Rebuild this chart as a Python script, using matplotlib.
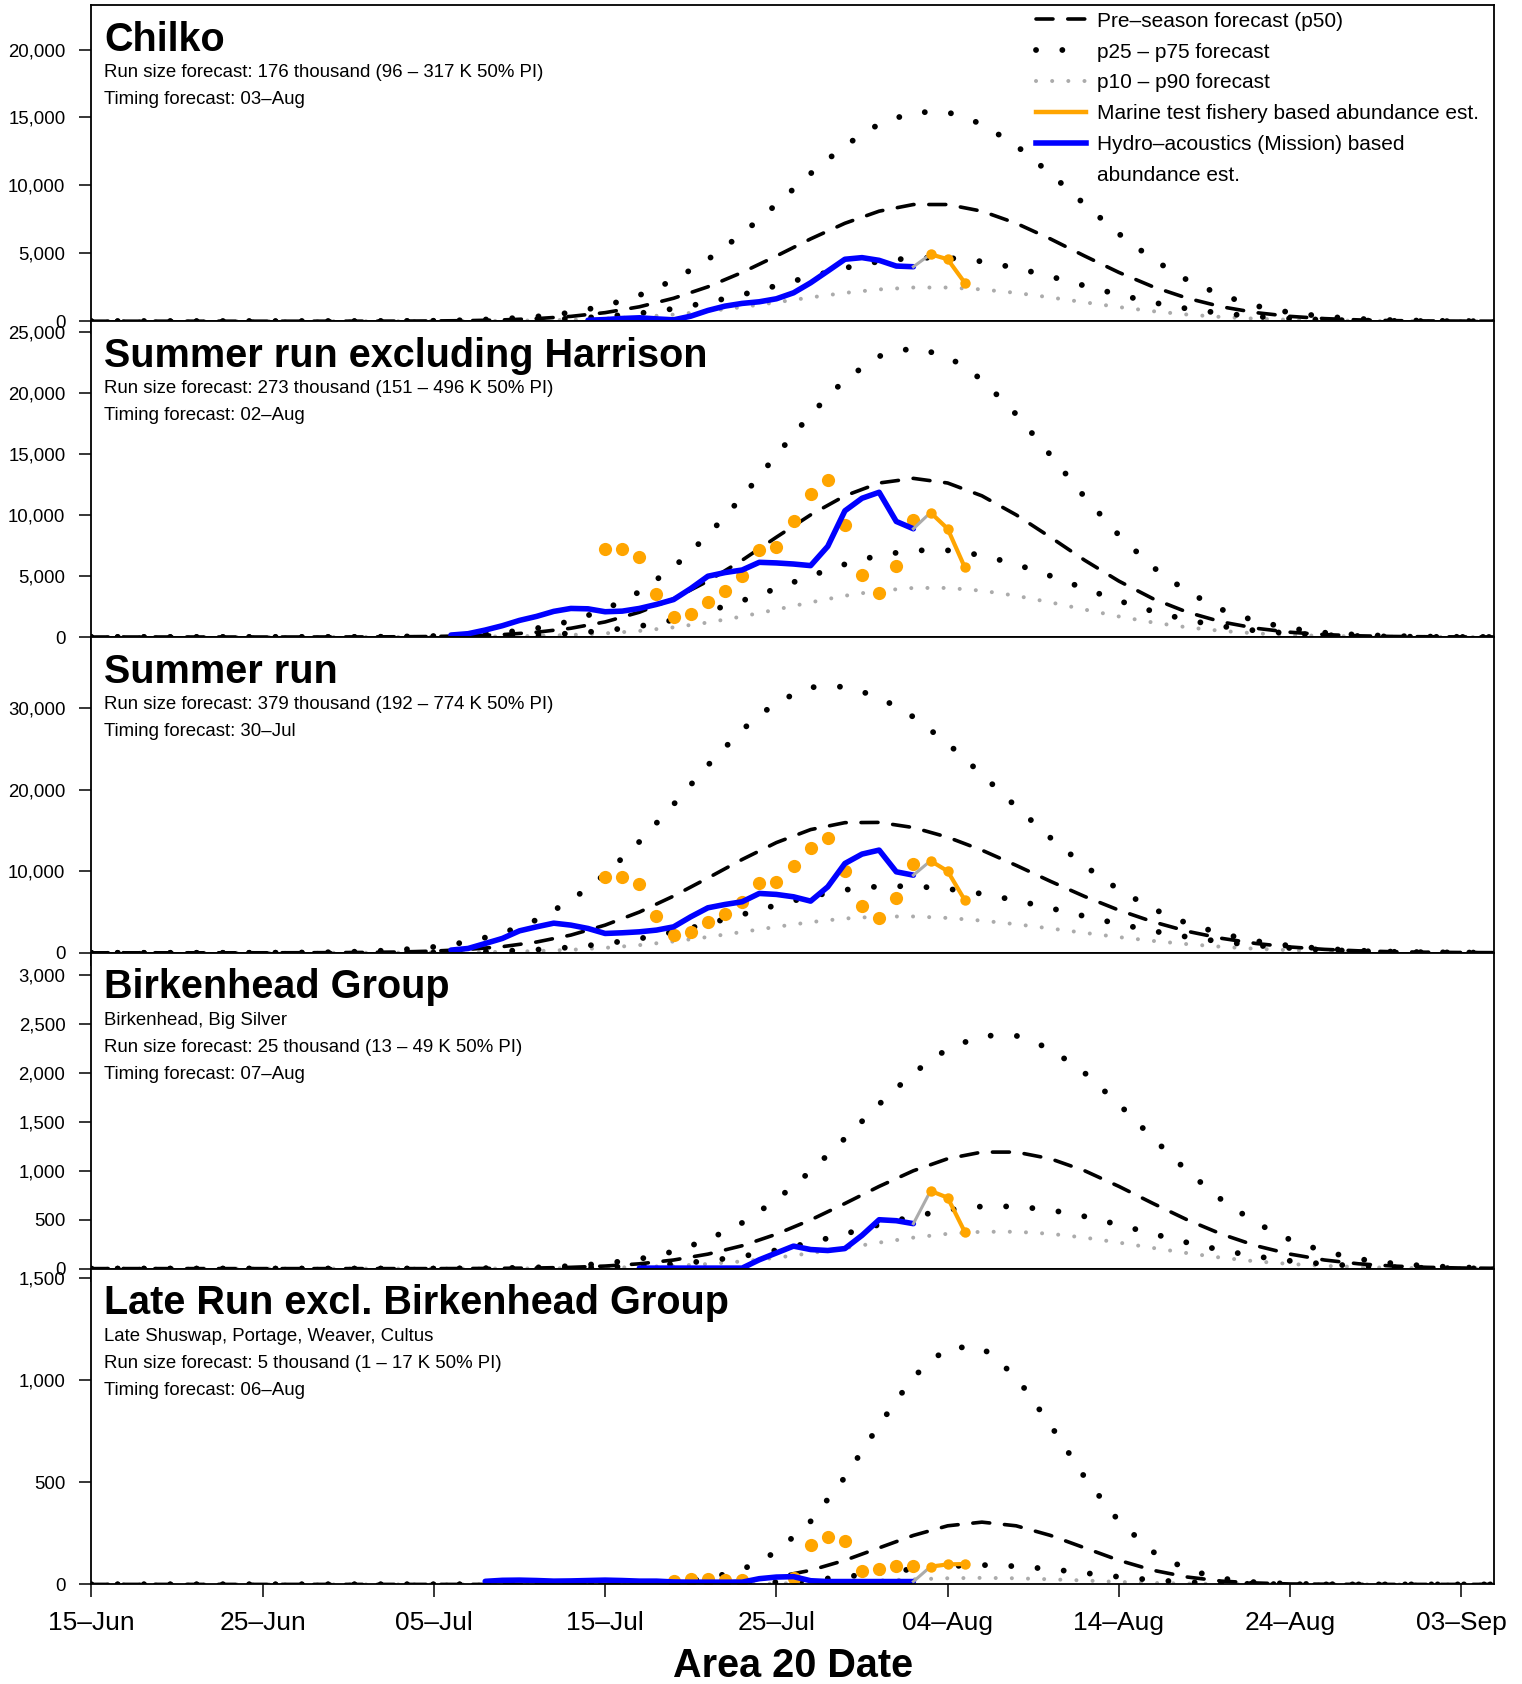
import matplotlib.pyplot as plt
from matplotlib.lines import Line2D
from matplotlib.ticker import FuncFormatter, MultipleLocator
from matplotlib.transforms import offset_copy
import numpy as np

plt.rcParams['font.family'] = ['Liberation Sans', 'DejaVu Sans']

# ---------------------------------------------------------------
# Data: days after 15-Jun (Area 20 date)
# ---------------------------------------------------------------
fc_days = np.arange(0, 84, 2)          # forecast curve grid
date_ticks = np.arange(0, 81, 10)
date_labels = ["15–Jun", "25–Jun", "05–Jul", "15–Jul", "25–Jul",
               "04–Aug", "14–Aug", "24–Aug", "03–Sep"]

titles = ["Chilko", "Summer run excluding Harrison", "Summer run",
          "Birkenhead Group", "Late Run excl. Birkenhead Group"]
notes = [
    ["Run size forecast: 176 thousand (96 – 317 K 50% PI)", "Timing forecast: 03–Aug"],
    ["Run size forecast: 273 thousand (151 – 496 K 50% PI)", "Timing forecast: 02–Aug"],
    ["Run size forecast: 379 thousand (192 – 774 K 50% PI)", "Timing forecast: 30–Jul"],
    ["Birkenhead, Big Silver", "Run size forecast: 25 thousand (13 – 49 K 50% PI)",
     "Timing forecast: 07–Aug"],
    ["Late Shuswap, Portage, Weaver, Cultus",
     "Run size forecast: 5 thousand (1 – 17 K 50% PI)", "Timing forecast: 06–Aug"],
]

# pre-season forecast curves (daily abundance)
chilko_p50 = [0]*8 + [3, 8, 19, 43, 95, 190, 355, 630, 1060, 1690, 2530, 3590, 4800, 6060,
                      7210, 8100, 8590, 8590, 8100, 7210, 6060, 4800, 3590, 2530, 1690, 1060,
                      630, 355, 190, 95, 43, 19, 8, 3]
chilko_p75 = [0]*8 + [6, 14, 34, 78, 170, 340, 635, 1130, 1910, 3020, 4540, 6430, 8600, 10870,
                      12930, 14520, 15390, 15390, 14520, 12930, 10870, 8600, 6430, 4540, 3020,
                      1910, 1130, 635, 340, 170, 78, 34, 14, 6]
chilko_p25 = [0]*8 + [2, 4, 10, 24, 52, 103, 193, 343, 578, 917, 1377, 1950, 2610, 3295, 3920,
                      4400, 4670, 4670, 4400, 3920, 3295, 2610, 1950, 1377, 917, 578, 343, 193,
                      103, 52, 24, 10, 4, 2]
chilko_p10 = [0]*8 + [1, 2, 6, 13, 28, 55, 103, 183, 308, 488, 733, 1040, 1390, 1750, 2085,
                      2340, 2480, 2480, 2340, 2085, 1750, 1390, 1040, 733, 488, 308, 183, 103,
                      55, 28, 13, 6, 2, 1]

sxh_p50 = [0]*7 + [3, 8, 20, 44, 96, 195, 390, 715, 1235, 2030, 3130, 4580, 6290, 8180, 10010,
                   11570, 12620, 13000, 12620, 11570, 10010, 8180, 6290, 4580, 3130, 2030, 1235,
                   715, 390, 195, 96, 44, 20, 8, 3]
sxh_p75 = [0]*7 + [5, 14, 36, 81, 175, 355, 710, 1300, 2250, 3700, 5710, 8340, 11470, 14910,
                   18250, 21090, 23010, 23700, 23010, 21090, 18250, 14910, 11470, 8340, 5710,
                   3700, 2250, 1300, 710, 355, 175, 81, 36, 14, 5]
sxh_p25 = [0]*7 + [1, 3, 6, 16, 36, 79, 157, 293, 522, 879, 1394, 2095, 2970, 3970, 5010, 5960,
                   6700, 7100, 7100, 6700, 5960, 5010, 3970, 2970, 2095, 1394, 879, 522, 293,
                   157, 79, 36, 16, 6, 3]
sxh_p10 = [0]*7 + [1, 2, 4, 9, 20, 45, 89, 166, 296, 498, 790, 1187, 1680, 2250, 2840, 3380,
                   3795, 4020, 4020, 3795, 3380, 2840, 2250, 1680, 1187, 790, 498, 296, 166, 89,
                   45, 20, 9, 4, 2]

summer_p50 = [0]*5 + [2, 8, 21, 48, 100, 210, 420, 750, 1320, 2170, 3390, 4990, 6950, 9160,
                      11430, 13500, 15090, 15940, 15970, 15340, 14160, 12570, 10710, 8760, 6900,
                      5220, 3790, 2630, 1770, 1140, 710, 420, 240, 130, 70, 35, 18]
summer_p75 = [0]*5 + [10, 30, 72, 164, 360, 720, 1340, 2390, 4030, 6390, 9600, 13600, 18180,
                      22970, 27320, 30700, 32530, 32600, 31320, 28890, 25650, 21850, 17890,
                      14090, 10650, 7730, 5370, 3600, 2330, 1440, 850, 490, 270, 140, 72, 36, 18]
summer_p25 = [0]*7 + [4, 11, 25, 52, 107, 213, 385, 670, 1110, 1730, 2550, 3550, 4680, 5840,
                      6900, 7710, 8140, 8160, 7840, 7230, 6420, 5470, 4480, 3530, 2670, 1940,
                      1350, 900, 580, 360, 210, 123, 67, 35, 18]
summer_p10 = [0]*7 + [2, 6, 14, 28, 58, 116, 210, 365, 605, 943, 1390, 1935, 2550, 3180, 3760,
                      4200, 4440, 4450, 4270, 3940, 3500, 2980, 2440, 1920, 1455, 1060, 735, 490,
                      316, 196, 114, 67, 37, 19, 10]

birk_p50 = [0]*11 + [1, 3, 6, 13, 26, 49, 88, 148, 234, 352, 498, 666, 841, 1001, 1124, 1192,
                     1192, 1124, 1001, 841, 666, 498, 352, 234, 148, 88, 49, 26, 13, 6, 3]
birk_p75 = [0]*11 + [2, 5, 12, 26, 53, 98, 175, 295, 468, 703, 996, 1332, 1682, 2002, 2249,
                     2383, 2383, 2249, 2002, 1682, 1332, 996, 703, 468, 295, 175, 98, 53, 26, 12, 5]
birk_p25 = [0]*11 + [1, 1, 3, 7, 14, 26, 47, 79, 125, 188, 266, 355, 449, 534, 600, 636, 636,
                     600, 534, 449, 355, 266, 188, 125, 79, 47, 26, 14, 7, 3, 1]
birk_p10 = [0]*11 + [0, 1, 2, 4, 8, 16, 28, 47, 74, 111, 158, 211, 266, 317, 356, 377, 377,
                     356, 317, 266, 211, 158, 111, 74, 47, 28, 16, 8, 4, 2, 1]

late_p50 = [0]*16 + [1, 2, 7, 16, 36, 69, 118, 179, 240, 287, 305, 287, 240, 179, 118, 69, 36,
                     16, 7, 2, 1, 0, 0, 0, 0, 0]
late_p75 = [0]*15 + [1, 3, 10, 29, 72, 159, 309, 525, 781, 1017, 1161, 1161, 1017, 781, 525,
                     309, 159, 72, 29, 10, 3, 1, 0, 0, 0, 0, 0]
late_p25 = [0]*16 + [0, 1, 2, 5, 11, 21, 37, 56, 75, 89, 95, 89, 75, 56, 37, 21, 11, 5, 2, 1,
                     0, 0, 0, 0, 0, 0]
late_p10 = [0]*16 + [0, 0, 1, 2, 4, 7, 12, 19, 25, 30, 32, 30, 25, 19, 12, 7, 4, 2, 1, 0, 0,
                     0, 0, 0, 0, 0]

# hydro-acoustic (Mission) based abundance estimates
chilko_hydro_days = np.arange(29, 49)
chilko_hydro = [70, 120, 200, 250, 170, 100, 370, 790, 1110, 1310, 1430, 1650, 2090, 2830,
                3690, 4560, 4680, 4480, 4060, 4010]
sxh_hydro_days = np.arange(21, 49)
sxh_hydro = [160, 270, 570, 925, 1360, 1690, 2100, 2340, 2310, 2070, 2120, 2340, 2670, 3070,
             3970, 4980, 5280, 5490, 6120, 6070, 5980, 5850, 7430, 10340, 11370, 11860, 9470, 8870]
summer_hydro_days = np.arange(21, 49)
summer_hydro = [330, 530, 1140, 1760, 2690, 3180, 3630, 3390, 2980, 2370, 2450, 2570, 2780,
                3180, 4410, 5510, 5920, 6250, 7270, 7150, 6860, 6330, 8080, 10940, 12090,
                12580, 9920, 9510]
birk_hydro_days = np.arange(32, 49)
birk_hydro = [5, 5, 5, 5, 5, 5, 5, 90, 160, 230, 195, 185, 205, 340, 500, 490, 460]
late_hydro_days = np.arange(23, 49)
late_hydro = [15, 20, 21, 19, 16, 17, 19, 21, 19, 16, 16, 12, 11, 11, 11, 11, 28, 36, 38, 18,
              14, 14, 14, 14, 14, 14]

# marine test fishery based abundance estimates (line)
marine_days = np.array([49, 50, 51])
chilko_marine = [4930, 4560, 2830]
sxh_marine = [10200, 8870, 5710]
summer_marine = [11270, 10000, 6450]
birk_marine = [795, 726, 375]
late_marine = [87, 98, 100]

# earlier daily marine test fishery estimates (points)
sxh_pts_days = np.arange(30, 49)
sxh_pts = [7235, 7235, 6580, 3540, 1600, 1900, 2830, 3730, 5000, 7100, 7400, 9470, 11720,
           12870, 9190, 5060, 3620, 5850, 9600]
summer_pts_days = np.arange(30, 49)
summer_pts = [9310, 9310, 8370, 4530, 2160, 2570, 3720, 4700, 6170, 8490, 8620, 10620, 12780,
              14050, 10000, 5680, 4290, 6660, 10820]
late_pts_days = np.array([34, 35, 36, 37, 38, 41, 42, 43, 44, 45, 46, 47, 48])
late_pts = [15, 25, 28, 21, 21, 29, 194, 230, 214, 67, 77, 88, 90]

panels = [
    dict(p50=chilko_p50, p75=chilko_p75, p25=chilko_p25, p10=chilko_p10,
         hd=chilko_hydro_days, hv=chilko_hydro, mv=chilko_marine, pd=None, pv=None,
         ymax=23250, step=5000),
    dict(p50=sxh_p50, p75=sxh_p75, p25=sxh_p25, p10=sxh_p10,
         hd=sxh_hydro_days, hv=sxh_hydro, mv=sxh_marine, pd=sxh_pts_days, pv=sxh_pts,
         ymax=25880, step=5000),
    dict(p50=summer_p50, p75=summer_p75, p25=summer_p25, p10=summer_p10,
         hd=summer_hydro_days, hv=summer_hydro, mv=summer_marine, pd=summer_pts_days,
         pv=summer_pts, ymax=38680, step=10000),
    dict(p50=birk_p50, p75=birk_p75, p25=birk_p25, p10=birk_p10,
         hd=birk_hydro_days, hv=birk_hydro, mv=birk_marine, pd=None, pv=None,
         ymax=3231, step=500),
    dict(p50=late_p50, p75=late_p75, p25=late_p25, p10=late_p10,
         hd=late_hydro_days, hv=late_hydro, mv=late_marine, pd=late_pts_days, pv=late_pts,
         ymax=1547, step=500),
]

legend_labels = ["Pre–season forecast (p50)", "p25 – p75 forecast", "p10 – p90 forecast",
                 "Marine test fishery based abundance est.", "Hydro–acoustics (Mission) based",
                 "abundance est."]

# ---------------------------------------------------------------
# Styles
# ---------------------------------------------------------------
BLUE = "#0000FF"
ORANGE = "#FFA500"
GREY = "#ABABAB"
st_p50 = dict(color="black", lw=2.6, linestyle=(0, (4.7, 4.1)), dash_capstyle="round")
st_p25 = dict(color="black", lw=4.2, linestyle=(0, (0.01, 4.5)), dash_capstyle="round")
st_p10 = dict(color=GREY, lw=2.9, linestyle=(0, (0.01, 4.0)), dash_capstyle="round")

W, H = 1522, 1684
fig = plt.figure(figsize=(W / 100, H / 100), dpi=100)
left, right = 91.3 / W, 1494.0 / W
top_px, panel_px = 5.4, 315.8

fmt = FuncFormatter(lambda v, pos: f"{v:,.0f}")

for i, p in enumerate(panels):
    y0 = 1 - (top_px + (i + 1) * panel_px) / H
    ax = fig.add_axes([left, y0, right - left, panel_px / H])

    ax.plot(fc_days, p["p10"], zorder=2, **st_p10)
    ax.plot(fc_days, p["p25"], zorder=3, **st_p25)
    ax.plot(fc_days, p["p75"], zorder=3, **st_p25)
    ax.plot(fc_days, p["p50"], zorder=4, **st_p50)

    if p["pd"] is not None:
        ax.plot(p["pd"], p["pv"], "o", color=ORANGE, ms=9.5, mec="none", zorder=5)

    ax.plot(p["hd"], p["hv"], color=BLUE, lw=4.0, solid_joinstyle="round",
            solid_capstyle="round", zorder=6)
    # join last hydro-acoustic day to first marine estimate
    ax.plot([p["hd"][-1], marine_days[0]], [p["hv"][-1], p["mv"][0]],
            color=GREY, lw=2.2, zorder=6)
    ax.plot(marine_days, p["mv"], "-o", color=ORANGE, lw=3.0, ms=7.5, mec="none",
            solid_joinstyle="round", zorder=7)

    ax.set_xlim(0, 81.9)
    ax.set_ylim(0, p["ymax"])
    ax.set_xticks(date_ticks)
    ax.yaxis.set_major_locator(MultipleLocator(p["step"]))
    ax.yaxis.set_major_formatter(fmt)
    ax.tick_params(axis="y", direction="out", length=8.6, width=1.1, pad=10, labelsize=13.4)
    ax.tick_params(axis="x", direction="out", length=9.4, width=1.1, pad=10, labelsize=19)
    if i < len(panels) - 1:
        ax.set_xticklabels([])
    else:
        ax.set_xticklabels(date_labels)
    for s in ax.spines.values():
        s.set_linewidth(1.3)
        s.set_zorder(10)

    # panel heading and notes
    tr = offset_copy(ax.transAxes, fig=fig, x=13, y=-45.5, units="dots")
    ax.text(0, 1, titles[i], transform=tr, fontsize=28.5, fontweight="bold",
            ha="left", va="baseline")
    for k, line in enumerate(notes[i]):
        tr = offset_copy(ax.transAxes, fig=fig, x=13, y=-(72 + 27 * k), units="dots")
        ax.text(0, 1, line, transform=tr, fontsize=13.4, ha="left", va="baseline")

    if i == 0:
        handles = [
            Line2D([], [], **st_p50),
            Line2D([], [], **st_p25),
            Line2D([], [], **st_p10),
            Line2D([], [], color=ORANGE, lw=3.2),
            Line2D([], [], color=BLUE, lw=4.0),
            Line2D([], [], color="none"),
        ]
        ax.legend(handles, legend_labels, loc="upper left", bbox_to_anchor=(0.6735, 0.98),
                  frameon=False, fontsize=15, handlelength=2.4, handletextpad=0.55,
                  labelspacing=0.57, borderpad=0, borderaxespad=0)

fig.text((91.3 + 1494) / 2 / W, 1 - 1677 / H, "Area 20 Date", fontsize=28.5,
         fontweight="bold", ha="center", va="baseline")

fig.savefig("out.png", dpi=100)
